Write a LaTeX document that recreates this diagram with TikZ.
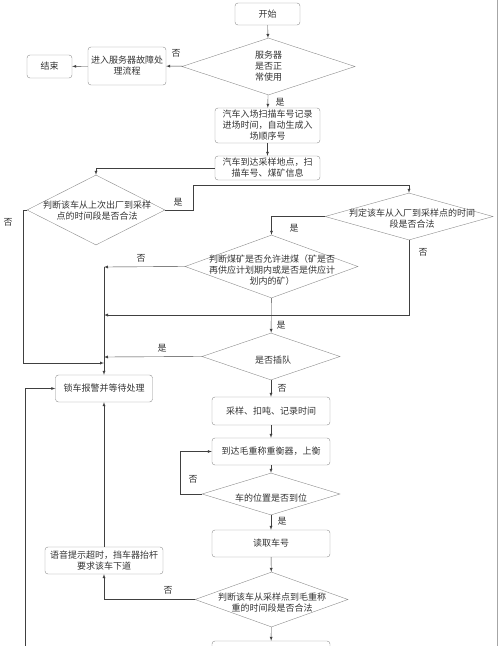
\documentclass[tikz,border=0pt]{standalone}
\usepackage{fontspec}
\setmainfont{Noto Sans CJK SC}
\usetikzlibrary{shapes.geometric}

\begin{document}
\begin{tikzpicture}[x=1pt,y=-1pt,
    box/.style={draw=gray!90,rounded corners=3pt,inner sep=0pt,align=center},
    dia/.style={draw=gray!90,diamond,inner sep=0pt},
    txt/.style={align=center,inner sep=0pt},
    lbl/.style={inner sep=0pt},
    arr/.style={-latex,draw=black!75},
    every node/.style={font=\fontsize{9}{11}\selectfont,text=black!80}]
  \useasboundingbox (0,0) rectangle (500,646);
  \clip (0,0) rectangle (500,646);
  \draw[gray!70] (497,0) -- (497,646);

  % boxes
  \node[box,minimum width=65pt,minimum height=22pt] (start) at (267.5,14) {开始};
  \node[box,minimum width=45pt,minimum height=23pt] (stop) at (49.5,66.5) {结束};
  \node[box,minimum width=78pt,minimum height=38pt] (fault) at (127,66) {进入服务器故障处\\理流程};
  \node[box,minimum width=105pt,minimum height=35pt] (scan) at (267.5,125.5) {汽车入场扫描车号记录\\进场时间，自动生成入\\场顺序号};
  \node[box,minimum width=105pt,minimum height=24pt] (arrive) at (267.5,168) {汽车到达采样地点，扫\\描车号、煤矿信息};
  \node[box,minimum width=97pt,minimum height=27pt] (lock) at (104,388.5) {锁车报警并等待处理};
  \node[box,minimum width=118pt,minimum height=28pt] (sample) at (271,411) {采样、扣吨、记录时间};
  \node[box,minimum width=118pt,minimum height=27pt] (weigh) at (271,451.5) {到达毛重称重衡器，上衡};
  \node[box,minimum width=118pt,minimum height=27pt] (read) at (271,543.5) {读取车号};
  \node[box,minimum width=118pt,minimum height=27pt] (voice) at (104,560.5) {语音提示超时，挡车器抬杆\\要求该车下道};
  \node[box,minimum width=118pt,minimum height=28pt] (next) at (271,655) {};

  % decisions
  \node[dia,minimum width=173pt,minimum height=57pt] (srv) at (268.5,66.5) {};
  \node[txt] (srvtext) at (srv) {服务器\\是否正\\常使用};
  \node[dia,minimum width=138pt,minimum height=70pt] (judge1) at (96,210) {};
  \node[txt] (judge1text) at (97,211) {判断该车从上次出厂到采样\\点的时间段是否合法};
  \node[dia,minimum width=168pt,minimum height=47pt] (judge2) at (409,216.5) {};
  \node[txt] (judge2text) at (412,219) {判定该车从入厂到采样点的时间\\段是否合法};
  \node[dia,minimum width=173pt,minimum height=63pt] (judge3) at (271.5,266.5) {};
  \node[txt] (judge3text) at (272,270) {判断煤矿是否允许进煤（矿是否\\再供应计划期内或是否是供应计\\划内的矿）};
  \node[dia,minimum width=138pt,minimum height=47pt] (queue) at (271,356.5) {};
  \node[txt] (queuetext) at (273,360) {是否插队};
  \node[dia,minimum width=138pt,minimum height=42pt] (pos) at (271,494) {};
  \node[txt] (postext) at (271,498) {车的位置是否到位};
  \node[dia,minimum width=153pt,minimum height=55pt] (judge4) at (271.5,599.5) {};
  \node[txt] (judge4text) at (272,603) {判断该车从采样点到毛重称\\重的时间段是否合法};

  % turning points
  \coordinate (j1up) at (193,185);
  \coordinate (j1low) at (23,363);
  \coordinate (j1end) at (104,363);
  \coordinate (j2end) at (104,315);
  \coordinate (j3end) at (104,267);
  \coordinate (qend) at (104,357);
  \coordinate (pback) at (180,494);
  \coordinate (bottom) at (25,660);

  % connectors
  \draw[arr] (start) -- (srv);
  \draw[arr] (srv) -- (fault);
  \draw[arr] (fault) -- (stop);
  \draw[arr] (srv) -- (scan);
  \draw[arr] (scan) -- (arrive);
  \draw[arr] (arrive.west) -| (judge1.north);
  \draw[arr] (judge1.east) -| (j1up) -| (judge2.north);
  \draw[arr] (judge2.west) -| (judge3.north);
  \draw[arr] (judge3.west) -- (j3end);
  \draw[arr] (judge2.south) |- (j2end);
  \draw[arr] (j3end) -- (lock.north);
  \draw[arr] (judge3) -- (queue);
  \draw[arr] (queue.west) -- (qend);
  \draw[arr] (judge1.west) -| (j1low) -- (j1end);
  \draw[arr] (queue) -- (sample);
  \draw[arr] (sample) -- (weigh);
  \draw[arr] (weigh) -- (pos);
  \draw[arr] (pos.west) -- (pback) |- (weigh.west);
  \draw[arr] (pos) -- (read);
  \draw[arr] (read) -- (judge4);
  \draw[arr] (judge4.west) -| (voice.south);
  \draw[arr] (voice) -- (lock);
  \draw[arr] (judge4) -- (next);
  \draw[arr] (bottom) |- (lock.west);

  % yes / no
  \node[lbl] (no1) at (176,53) {否};
  \node[lbl] (yes1) at (280,102) {是};
  \node[lbl] (yes2) at (178,202) {是};
  \node[lbl] (no2) at (8,222) {否};
  \node[lbl] (yes3) at (294,228) {是};
  \node[lbl] (no3) at (423,252) {否};
  \node[lbl] (no4) at (141,258) {否};
  \node[lbl] (yes4) at (281,325) {是};
  \node[lbl] (yes5) at (162,348) {是};
  \node[lbl] (no5) at (282,388) {否};
  \node[lbl] (no6) at (193,479) {否};
  \node[lbl] (yes6) at (282,521) {是};
  \node[lbl] (no7) at (168,590) {否};
\end{tikzpicture}
\end{document}
